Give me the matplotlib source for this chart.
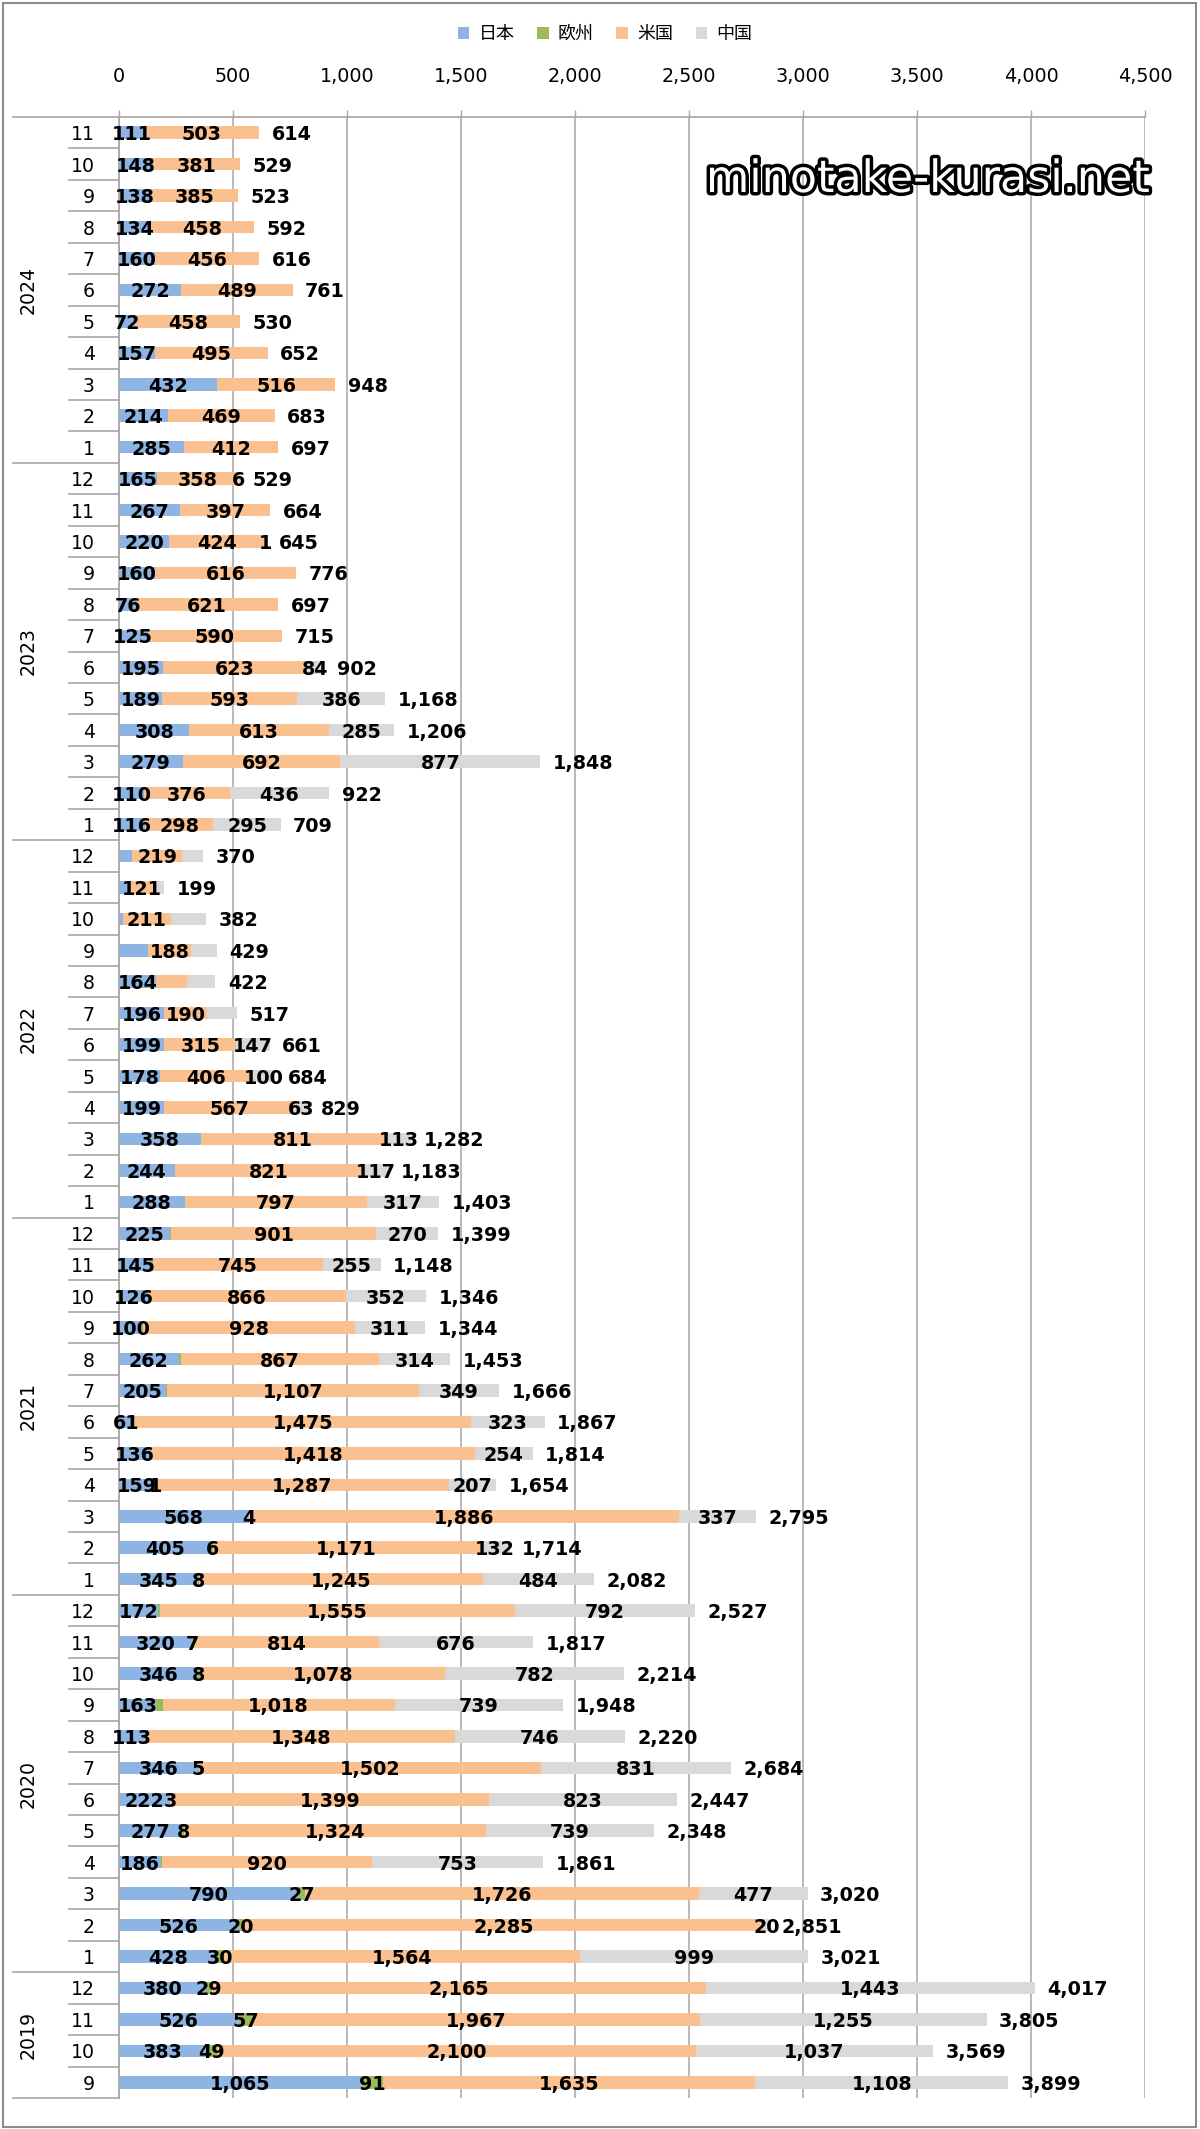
import matplotlib
matplotlib.use("Agg")
import matplotlib.pyplot as plt
from matplotlib.patches import Patch, Rectangle
from matplotlib.lines import Line2D
from matplotlib.transforms import blended_transform_factory
from matplotlib.ticker import FuncFormatter, FixedLocator
import matplotlib.patheffects as pe

plt.rcParams['font.family'] = ['DejaVu Sans', 'Noto Sans CJK JP']

# ---- data (chronological, 2019-09 .. 2024-11) ----
years = [2019] * 4 + [2020] * 12 + [2021] * 12 + [2022] * 12 + [2023] * 12 + [2024] * 11
months = [9, 10, 11, 12] + list(range(1, 13)) * 4 + list(range(1, 12))

series_names = ['日本', '欧州', '米国', '中国']
series_colors = ['#8DB4E2', '#9BBB59', '#FAC090', '#D9D9D9']

japan = [1065, 383, 526, 380,
         428, 526, 790, 186, 277, 222, 346, 113, 163, 346, 320, 172,
         345, 405, 568, 159, 136, 61, 205, 262, 100, 126, 145, 225,
         288, 244, 358, 199, 178, 199, 196, 164, 129, 17, 40, 58,
         116, 110, 279, 308, 189, 195, 125, 76, 160, 220, 267, 165,
         285, 214, 432, 157, 72, 272, 160, 134, 138, 148, 111]
europe = [91, 49, 57, 29,
          30, 20, 27, 2, 8, 3, 5, 13, 28, 8, 7, 8,
          8, 6, 4, 1, 6, 8, 5, 10, 5, 2, 3, 3,
          1, 1, 0, 0, 0, 0, 0, 0, 0, 0, 0, 0,
          0, 0, 0, 0, 0, 0, 0, 0, 0, 0, 0, 0,
          0, 0, 0, 0, 0, 0, 0, 0, 0, 0, 0]
usa = [1635, 2100, 1967, 2165,
       1564, 2285, 1726, 920, 1324, 1399, 1502, 1348, 1018, 1078, 814, 1555,
       1245, 1171, 1886, 1287, 1418, 1475, 1107, 867, 928, 866, 745, 901,
       797, 821, 811, 567, 406, 315, 190, 133, 188, 211, 121, 219,
       298, 376, 692, 613, 593, 623, 590, 621, 616, 424, 397, 358,
       412, 469, 516, 495, 458, 489, 456, 458, 385, 381, 503]
china = [1108, 1037, 1255, 1443,
         999, 20, 477, 753, 739, 823, 831, 746, 739, 782, 676, 792,
         484, 132, 337, 207, 254, 323, 349, 314, 311, 352, 255, 270,
         317, 117, 113, 63, 100, 147, 131, 125, 112, 154, 38, 93,
         295, 436, 877, 285, 386, 84, 0, 0, 0, 1, 0, 6,
         0, 0, 0, 0, 0, 0, 0, 0, 0, 0, 0]

# data labels that are not shown in the original chart: (year, month, series)
hidden_labels = {
    (2020, 4, '欧州'), (2020, 8, '欧州'), (2020, 9, '欧州'), (2020, 12, '欧州'),
    (2021, 5, '欧州'), (2021, 6, '欧州'), (2021, 7, '欧州'), (2021, 8, '欧州'),
    (2021, 9, '欧州'), (2021, 10, '欧州'), (2021, 11, '欧州'), (2021, 12, '欧州'),
    (2022, 1, '欧州'), (2022, 2, '欧州'),
    (2022, 7, '中国'), (2022, 8, '米国'), (2022, 8, '中国'),
    (2022, 9, '日本'), (2022, 9, '中国'), (2022, 10, '日本'), (2022, 10, '中国'),
    (2022, 11, '日本'), (2022, 11, '中国'), (2022, 12, '日本'), (2022, 12, '中国'),
}

x_ticks = [0, 500, 1000, 1500, 2000, 2500, 3000, 3500, 4000, 4500]

# ---- figure ----
W, H = 1200, 2129
fig = plt.figure(figsize=(W / 100, H / 100), dpi=100)

def fx(px):
    return px / W

def fy(py):
    return 1 - py / H

ax_l, ax_r, ax_t, ax_b = 119, 1145, 117, 2098
ax = fig.add_axes([fx(ax_l), fy(ax_b), fx(ax_r - ax_l), (ax_b - ax_t) / H])

n = len(months)
pos = [n - 1 - i for i in range(n)]  # chronological index -> row (0 = top)

all_series = [japan, europe, usa, china]
left = [0] * n
for name, col, vals in zip(series_names, series_colors, all_series):
    ax.barh(pos, vals, left=left, height=0.4, color=col, zorder=2)
    for i in range(n):
        v = vals[i]
        if v > 0 and (years[i], months[i], name) not in hidden_labels:
            ax.text(left[i] + v / 2, pos[i], f"{v:,}", ha='center', va='center_baseline',
                    fontsize=13.8, fontweight='bold', color='black', zorder=4)
    left = [a + b for a, b in zip(left, vals)]

totals = left
for i in range(n):
    ax.annotate(f"{totals[i]:,}", (totals[i], pos[i]), xytext=(9.0, 0),
                textcoords='offset points', ha='left', va='center_baseline',
                fontsize=13.8, fontweight='bold', color='black', zorder=4)

ax.set_xlim(0, 4500)
ax.set_ylim(n - 0.5, -0.5)
ax.xaxis.tick_top()
ax.xaxis.set_major_locator(FixedLocator(x_ticks))
ax.xaxis.set_major_formatter(FuncFormatter(lambda v, p: f"{int(v):,}"))
ax.tick_params(axis='x', direction='out', length=5, width=1, color='#A6A6A6',
               labelsize=13.8, pad=17, labelcolor='black')
ax.set_yticks([])
ax.grid(axis='x', color='#A6A6A6', linewidth=1.1, zorder=0)
ax.set_axisbelow(True)
for s in ['right', 'bottom']:
    ax.spines[s].set_visible(False)
for s in ['top', 'left']:
    ax.spines[s].set_color('#A6A6A6')
    ax.spines[s].set_linewidth(1.2)

# ---- multi-level category axis ----
tr = blended_transform_factory(fig.transFigure, ax.transData)
for i in range(n):
    ax.text(fx(95), pos[i], str(months[i]), transform=tr, ha='right', va='center_baseline',
            fontsize=13.6, color='black')
line_kw = dict(color='#A6A6A6', linewidth=1.2, transform=tr, clip_on=False)
fig_lines = []
fig_lines.append(Line2D([fx(13), fx(ax_l)], [-0.5, -0.5], **line_kw))
fig_lines.append(Line2D([fx(13), fx(ax_l)], [n - 0.5, n - 0.5], **line_kw))
for i in range(1, n):
    yb = pos[i] + 0.5
    x0 = 13 if months[i] == 1 else 69
    fig_lines.append(Line2D([fx(x0), fx(ax_l)], [yb, yb], **line_kw))
for ln in fig_lines:
    ax.add_line(ln)

for yr in sorted(set(years)):
    idx = [pos[i] for i in range(n) if years[i] == yr]
    yc = (min(idx) + max(idx)) / 2
    ax.text(fx(28), yc, str(yr), transform=tr, rotation=90, ha='center', va='center',
            fontsize=13.6, color='black')

# ---- legend ----
handles = [Patch(facecolor=c, edgecolor='none') for c in series_colors]
fig.legend(handles, series_names, loc='center', bbox_to_anchor=(fx(605), fy(34)),
           ncol=4, frameon=False, prop={'family': ['Noto Sans CJK JP'], 'size': 13},
           handlelength=0.65, handleheight=0.65, handletextpad=0.5, columnspacing=1.25)

# ---- watermark ----
fig.text(fx(928), fy(192), 'minotake-kurasi.net', ha='center', va='baseline',
         fontsize=32, color='white', family='DejaVu Sans',
         path_effects=[pe.Stroke(linewidth=5, foreground='black'), pe.Normal()], zorder=10)

# ---- outer border ----
fig.patches.append(Rectangle((fx(3), fy(2127)), fx(1193), (2127 - 3) / H, transform=fig.transFigure,
                             fill=False, edgecolor='#8C8C8C', linewidth=1.5))

fig.savefig('out.png', dpi=100)
